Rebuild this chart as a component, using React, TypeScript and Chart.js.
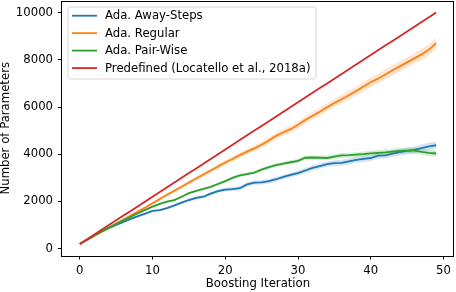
import React, { useEffect, useRef } from 'react';
import { Chart, registerables } from 'chart.js';

Chart.register(...registerables);

const iterations = [0,1,2,3,4,5,6,7,8,9,10,11,12,13,14,15,16,17,18,19,20,21,22,23,24,25,26,27,28,29,30,31,32,33,34,35,36,37,38,39,40,41,42,43,44,45,46,47,48,49];

const awaySteps = [200,380,560,720,870,1000,1130,1260,1380,1480,1600,1630,1720,1830,1950,2060,2150,2200,2330,2440,2500,2520,2560,2720,2800,2810,2860,2940,3040,3120,3200,3310,3420,3500,3580,3620,3630,3700,3760,3800,3840,3940,3950,4030,4090,4140,4180,4260,4330,4380];
const awayStd = [0,15,20,25,30,30,35,40,40,45,50,50,55,55,60,60,65,70,70,75,80,80,85,85,90,90,95,95,100,100,105,110,110,115,115,120,120,125,125,130,130,135,135,140,140,145,150,150,155,160];

const regular = [200,370,540,710,880,1060,1230,1400,1570,1740,1920,2100,2280,2450,2620,2800,2970,3140,3310,3480,3650,3800,3960,4110,4250,4400,4580,4780,4930,5060,5250,5450,5630,5800,5990,6170,6330,6500,6680,6870,7050,7200,7380,7560,7720,7890,8060,8230,8430,8700];
const regularStd = [0,15,20,25,30,35,40,45,50,55,60,65,70,75,80,85,90,95,100,105,110,112,115,120,125,130,135,140,145,150,150,155,160,165,170,175,180,185,190,195,200,200,205,210,215,220,220,225,230,230];

const pairWise = [200,380,560,730,890,1050,1200,1350,1500,1640,1780,1900,1990,2060,2200,2350,2450,2530,2620,2740,2860,3000,3100,3160,3220,3350,3450,3540,3600,3660,3720,3850,3860,3850,3840,3900,3950,3960,3980,4000,4040,4060,4080,4110,4140,4150,4150,4100,4060,4030];
const pairStd = [0,10,15,20,20,25,25,30,30,35,35,40,40,45,45,50,50,55,55,60,60,65,65,70,70,75,75,80,80,85,85,90,90,95,95,100,100,105,105,110,110,115,115,120,120,125,125,130,130,135];

const predefined = [200,400,600,800,1000,1200,1400,1600,1800,2000,2200,2400,2600,2800,3000,3200,3400,3600,3800,4000,4200,4400,4600,4800,5000,5200,5400,5600,5800,6000,6200,6400,6600,6800,7000,7200,7400,7600,7800,8000,8200,8400,8600,8800,9000,9200,9400,9600,9800,10000];

const xTicks = [0, 10, 20, 30, 40, 50];
const yTicks = [0, 2000, 4000, 6000, 8000, 10000];

const labels = ['Ada. Away-Steps', 'Ada. Regular', 'Ada. Pair-Wise', 'Predefined (Locatello et al., 2018a)'];
const colors = ['#1f77b4', '#ff7f0e', '#2ca02c', '#d62728'];
const bandColors = ['rgba(31,119,180,0.2)', 'rgba(255,127,14,0.2)', 'rgba(44,160,44,0.2)'];

const FONT = '"DejaVu Sans", sans-serif';
const FS = 11.7;

const pts = (vals: number[]) => vals.map((v, i) => ({ x: iterations[i], y: v }));
const band = (vals: number[], std: number[], sign: number) => vals.map((v, i) => ({ x: iterations[i], y: v + sign * std[i] }));

const framePlugin = {
  id: 'frame',
  afterDraw(chart: any) {
    const { ctx, chartArea: a } = chart;
    ctx.save();
    ctx.strokeStyle = '#000';
    ctx.lineWidth = 1;
    const l = Math.round(a.left) - 0.5, t = Math.round(a.top) + 0.5;
    const r = Math.round(a.right) - 0.5, b = Math.round(a.bottom) + 0.5;
    ctx.strokeRect(l, t, r - l, b - t);

    // legend
    const lx = 68, ly = 7, lw = 248, lh = 72;
    ctx.beginPath();
    const rad = 2.5;
    ctx.moveTo(lx + rad, ly);
    ctx.arcTo(lx + lw, ly, lx + lw, ly + lh, rad);
    ctx.arcTo(lx + lw, ly + lh, lx, ly + lh, rad);
    ctx.arcTo(lx, ly + lh, lx, ly, rad);
    ctx.arcTo(lx, ly, lx + lw, ly, rad);
    ctx.closePath();
    ctx.fillStyle = 'rgba(255,255,255,0.8)';
    ctx.fill();
    ctx.strokeStyle = '#d6d6d6';
    ctx.lineWidth = 1;
    ctx.stroke();

    ctx.font = `${FS}px ${FONT}`;
    ctx.textBaseline = 'middle';
    ctx.textAlign = 'left';
    labels.forEach((lab, i) => {
      const y = 15.7 + i * 17.45;
      ctx.strokeStyle = colors[i];
      ctx.lineWidth = 1.8;
      ctx.beginPath();
      ctx.moveTo(72, y);
      ctx.lineTo(97, y);
      ctx.stroke();
      ctx.fillStyle = '#000';
      ctx.fillText(lab, 105, y + 0.5);
    });
    ctx.restore();
  },
};

export default function App() {
  const ref = useRef<HTMLCanvasElement>(null);
  useEffect(() => {
    if (!ref.current) return;
    const mkBand = (vals: number[], std: number[], idx: number, order: number) => [
      {
        label: labels[idx] + ' lo',
        data: band(vals, std, -1),
        borderWidth: 0,
        pointRadius: 0,
        fill: false,
        borderColor: 'rgba(0,0,0,0)',
        order,
      },
      {
        label: labels[idx] + ' hi',
        data: band(vals, std, 1),
        borderWidth: 0,
        pointRadius: 0,
        fill: '-1',
        backgroundColor: bandColors[idx],
        borderColor: 'rgba(0,0,0,0)',
        order,
      },
    ];
    const line = (vals: number[], idx: number, order: number) => ({
      label: labels[idx],
      data: pts(vals),
      borderColor: colors[idx],
      borderWidth: 1.8,
      pointRadius: 0,
      fill: false,
      tension: 0,
      order,
    });
    const chart = new Chart(ref.current, {
      type: 'line',
      data: {
        datasets: [
          ...mkBand(awaySteps, awayStd, 0, 9),
          line(awaySteps, 0, 8),
          ...mkBand(regular, regularStd, 1, 7),
          line(regular, 1, 6),
          ...mkBand(pairWise, pairStd, 2, 5),
          line(pairWise, 2, 4),
          line(predefined, 3, 1),
        ] as any,
      },
      options: {
        animation: false,
        responsive: false,
        maintainAspectRatio: false,
        layout: { padding: { top: 1, right: 2, left: 0, bottom: 0 } },
        plugins: { legend: { display: false }, tooltip: { enabled: false } },
        scales: {
          x: {
            type: 'linear',
            min: -2.45,
            max: 51.45,
            afterBuildTicks: (s: any) => { s.ticks = xTicks.map((v) => ({ value: v })); },
            afterFit: (s: any) => { s.height = 36.5; s.paddingLeft = 0; s.paddingRight = 0; },
            grid: { drawOnChartArea: false, color: '#000', tickLength: 4, lineWidth: 1 },
            border: { display: false },
            ticks: { color: '#000', padding: 4, font: { family: FONT, size: FS }, maxRotation: 0, autoSkip: false, callback: (v: any) => String(v) },
            title: { display: true, text: 'Boosting Iteration', color: '#000', font: { family: FONT, size: FS }, padding: { top: 0, bottom: 1 } },
          },
          y: {
            type: 'linear',
            min: -290,
            max: 10490,
            afterBuildTicks: (s: any) => { s.ticks = yTicks.map((v) => ({ value: v })); },
            afterFit: (s: any) => { s.width = 62; s.paddingTop = 0; s.paddingBottom = 0; },
            grid: { drawOnChartArea: false, color: '#000', tickLength: 4, lineWidth: 1 },
            border: { display: false },
            ticks: { color: '#000', padding: 5, font: { family: FONT, size: FS }, autoSkip: false, callback: (v: any) => String(v) },
            title: { display: true, text: 'Number of Parameters', color: '#000', font: { family: FONT, size: FS, lineHeight: 1.0 }, padding: { top: 0, bottom: 0 } },
          },
        },
      },
      plugins: [framePlugin],
    });
    return () => chart.destroy();
  }, []);
  return (
    <div style={{ position: 'absolute', left: 0, top: 0, width: 456, height: 292, background: '#fff' }}>
      <canvas ref={ref} width={456} height={292} style={{ width: 456, height: 292 }} />
    </div>
  );
}
